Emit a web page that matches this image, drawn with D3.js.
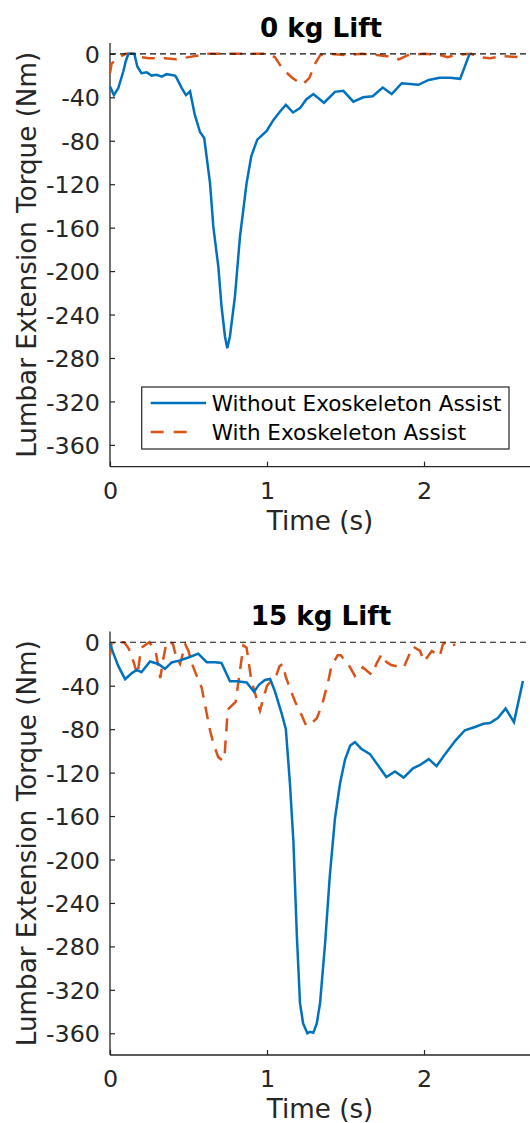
<!DOCTYPE html>
<html>
<head>
<meta charset="utf-8">
<script src="https://cdn.jsdelivr.net/npm/d3@7"></script>
<style>
  body { margin: 0; background: #fff; }
  text { font-family: "DejaVu Sans", sans-serif; }
</style>
</head>
<body>
<div id="chart"></div>
<script>
// Data (time in s, torque in Nm)
var yTicks = [0, -40, -80, -120, -160, -200, -240, -280, -320, -360];
var xTicks = [0, 1, 2];
var seriesNames = ["Without Exoskeleton Assist", "With Exoskeleton Assist"];
var panelTitles = ["0 kg Lift", "15 kg Lift"];

var lift0WithoutT = [0, 0.025, 0.053, 0.085, 0.10, 0.117, 0.155, 0.174, 0.20, 0.234, 0.265, 0.297, 0.33, 0.36, 0.414, 0.42, 0.457, 0.484, 0.51, 0.54, 0.573, 0.60, 0.637, 0.658, 0.69, 0.71, 0.732, 0.747, 0.764, 0.796, 0.828, 0.87, 0.90, 0.938, 0.998, 1.04, 1.083, 1.12, 1.166, 1.21, 1.25, 1.295, 1.363, 1.433, 1.486, 1.55, 1.613, 1.673, 1.737, 1.794, 1.858, 1.964, 2.03, 2.10, 2.166, 2.23, 2.29];
var lift0WithoutV = [-30, -38, -31.5, -16, -7, 0, 0, -11.6, -17.8, -17, -20, -19.3, -21, -18.7, -20, -21, -31.5, -38, -34.6, -56, -72, -77.5, -119, -159, -196, -232, -260, -271, -260, -223, -168, -119, -94, -79, -71, -61, -53, -47, -54, -50, -42, -37, -45, -35, -34, -44, -40, -39, -31, -37, -27, -28.5, -24, -22, -22, -23, 0];

var lift0WithT = [0, 0.01, 0.06, 0.1, 0.15, 0.2, 0.25, 0.35, 0.42, 0.5, 0.58, 0.63, 0.7, 0.8, 0.9, 1.0, 1.05, 1.1, 1.16, 1.2, 1.23, 1.27, 1.31, 1.34, 1.4, 1.5, 1.6, 1.7, 1.8, 1.84, 1.9, 2.0, 2.1, 2.15, 2.2, 2.3, 2.35, 2.42, 2.5, 2.6, 2.65];
var lift0WithV = [-18, -9, -3, 0, 0, -3, -4, -4, -5, -3, -1, 0, 0, 0, 0, 0, -3, -14, -22, -26, -28, -22, -8, -1, 0, -1, 0, -1, -3, -5, -1, 0, -1, -3, -1, 0, -3, -4, -2, -3, -2];

var lift15WithoutT = [0, 0.021, 0.053, 0.096, 0.138, 0.17, 0.2, 0.255, 0.308, 0.35, 0.393, 0.446, 0.5, 0.562, 0.616, 0.67, 0.71, 0.764, 0.807, 0.87, 0.917, 0.95, 0.987, 1.02, 1.05, 1.094, 1.12, 1.146, 1.168, 1.19, 1.21, 1.23, 1.257, 1.274, 1.295, 1.317, 1.338, 1.37, 1.40, 1.433, 1.465, 1.497, 1.53, 1.56, 1.60, 1.656, 1.71, 1.76, 1.815, 1.87, 1.93, 1.975, 2.03, 2.08, 2.134, 2.20, 2.26, 2.325, 2.378, 2.42, 2.47, 2.52, 2.573, 2.63];
var lift15WithoutV = [-1, -10, -22, -34, -28.5, -25.4, -27.6, -17.7, -20, -24.5, -18.6, -16.7, -14, -10.5, -18.3, -18.3, -19, -36, -36, -37, -45.6, -39, -34.7, -33.8, -45, -66, -80, -130, -183, -270, -332, -351, -360, -358.7, -359.6, -351, -332, -277, -215, -162, -130, -108, -95, -92, -98, -103, -114, -124, -119, -124.6, -116, -113, -107.6, -114, -103, -90.5, -81, -78, -75, -74.4, -69.8, -61, -73.5, -35.6];

var lift15WithT = [0, 0.01, 0.05, 0.09, 0.12, 0.15, 0.175, 0.19, 0.2, 0.25, 0.29, 0.31, 0.32, 0.34, 0.36, 0.40, 0.42, 0.446, 0.48, 0.5, 0.52, 0.55, 0.584, 0.637, 0.658, 0.69, 0.72, 0.73, 0.75, 0.8, 0.85, 0.87, 0.9, 0.93, 0.955, 0.98, 1.0, 1.03, 1.06, 1.08, 1.1, 1.12, 1.15, 1.18, 1.22, 1.25, 1.28, 1.317, 1.35, 1.37, 1.39, 1.41, 1.45, 1.47, 1.52, 1.56, 1.59, 1.61, 1.667, 1.7, 1.73, 1.76, 1.79, 1.87, 1.91, 1.93, 1.975, 2.0, 2.03, 2.05, 2.1, 2.12, 2.14, 2.16, 2.2];
var lift15WithV = [-12, -1, 0, 0, -6, -18, -30, -14, -5, 0, -8, -24, -33, -15, 0, -1, -13, -20, -2, -8, -19, -30, -42, -81, -93, -106, -109, -104, -62, -55, -3, -5, -35, -50, -63, -50, -40, -35, -30, -22, -20, -32, -44, -55, -67, -77, -75, -70, -58, -47, -36, -22, -12, -12, -21, -31, -27, -23, -30, -19, -11, -18, -21, -23.5, -10, -4, -8, -17.7, -12, -8, -13, -2, 0, -3, -2];

var blue = "#0072BD";
var orange = "#D95319";
var axisColor = "#262626";

var svgWidth = 530;
var svgHeight = 1123;

var svg = d3
  .select("#chart")
  .append("svg")
  .attr("width", svgWidth)
  .attr("height", svgHeight);

function toPoints(ts, vs) {
  return ts.map((t, i) => [t, vs[i]]);
}

// draw one panel; top = pixel y of the axes top edge
function drawPanel(top, title, withoutPts, withPts, showLegend) {
  var chartHeight = 423.6;
  var xScale = d3.scaleLinear().domain([0, 2.675]).range([110, 530]);
  var yScale = d3.scaleLinear().domain([-380, 10]).range([top + chartHeight, top]);

  var g = svg.append("g");

  // y axis
  var yAxis = g
    .append("g")
    .attr("transform", "translate(110,0)")
    .call(d3.axisRight(yScale).tickValues(yTicks).tickSize(5).tickFormat(d => d));
  yAxis.select(".domain").attr("stroke", axisColor).attr("stroke-width", 1.3)
    .attr("d", `M0,${top}V${top + chartHeight}`);
  yAxis.selectAll(".tick line").attr("stroke", axisColor).attr("stroke-width", 1.2);
  yAxis
    .selectAll(".tick text")
    .attr("x", -10)
    .attr("dy", "0.36em")
    .attr("text-anchor", "end")
    .attr("fill", axisColor)
    .style("font-size", "23.8px");

  // x axis
  var xAxis = g
    .append("g")
    .attr("transform", `translate(0,${top + chartHeight})`)
    .call(d3.axisTop(xScale).tickValues(xTicks).tickSize(5).tickFormat(d => d));
  xAxis.select(".domain").attr("stroke", axisColor).attr("stroke-width", 1.3)
    .attr("d", "M110,0H530");
  xAxis.selectAll(".tick line").attr("stroke", axisColor).attr("stroke-width", 1.2);
  xAxis
    .selectAll(".tick text")
    .attr("y", 32)
    .attr("dy", 0)
    .attr("fill", axisColor)
    .style("font-size", "23.8px");

  // labels
  g.append("text")
    .attr("x", 320)
    .attr("y", top + chartHeight + 63)
    .attr("text-anchor", "middle")
    .attr("fill", axisColor)
    .style("font-size", "26.2px")
    .text("Time (s)");

  g.append("text")
    .attr("transform", `translate(36,${top + chartHeight / 2}) rotate(-90)`)
    .attr("text-anchor", "middle")
    .attr("fill", axisColor)
    .style("font-size", "26.2px")
    .text("Lumbar Extension Torque (Nm)");

  g.append("text")
    .attr("x", 321)
    .attr("y", top - 6.5)
    .attr("text-anchor", "middle")
    .attr("fill", "#000")
    .style("font-size", "26.2px")
    .style("font-weight", "bold")
    .text(title);

  var line = d3.line().x(d => xScale(d[0])).y(d => yScale(d[1]));

  g.append("path")
    .datum(withPts)
    .attr("d", line)
    .attr("fill", "none")
    .attr("stroke", orange)
    .attr("stroke-width", 2.5)
    .attr("stroke-dasharray", "13,9");

  g.append("path")
    .datum(withoutPts)
    .attr("d", line)
    .attr("fill", "none")
    .attr("stroke", blue)
    .attr("stroke-width", 2.5);

  // zero reference line
  g.append("line")
    .attr("x1", xScale(0))
    .attr("x2", 530)
    .attr("y1", yScale(0))
    .attr("y2", yScale(0))
    .attr("stroke", "#111")
    .attr("stroke-width", 1.2)
    .attr("stroke-dasharray", "6,4");

  if (showLegend) {
    var legend = g.append("g");
    legend
      .append("rect")
      .attr("x", 141.7)
      .attr("y", 387)
      .attr("width", 367.3)
      .attr("height", 62)
      .attr("fill", "#fff")
      .attr("stroke", axisColor)
      .attr("stroke-width", 1.2);
    legend.append("line")
      .attr("x1", 150.7).attr("x2", 206).attr("y1", 403).attr("y2", 403)
      .attr("stroke", blue).attr("stroke-width", 2.5);
    legend.append("line")
      .attr("x1", 150.7).attr("x2", 187).attr("y1", 432).attr("y2", 432)
      .attr("stroke", orange).attr("stroke-width", 2.5)
      .attr("stroke-dasharray", "13,10");
    legend.selectAll(".legText")
      .data(seriesNames)
      .enter()
      .append("text")
      .attr("x", 211.7)
      .attr("y", (d, i) => 403 + i * 29)
      .attr("dy", "0.35em")
      .attr("fill", "#000")
      .style("font-size", "21.5px")
      .text(d => d);
  }
}

drawPanel(43, panelTitles[0], toPoints(lift0WithoutT, lift0WithoutV), toPoints(lift0WithT, lift0WithV), true);
drawPanel(631.4, panelTitles[1], toPoints(lift15WithoutT, lift15WithoutV), toPoints(lift15WithT, lift15WithV), false);
</script>
</body>
</html>
